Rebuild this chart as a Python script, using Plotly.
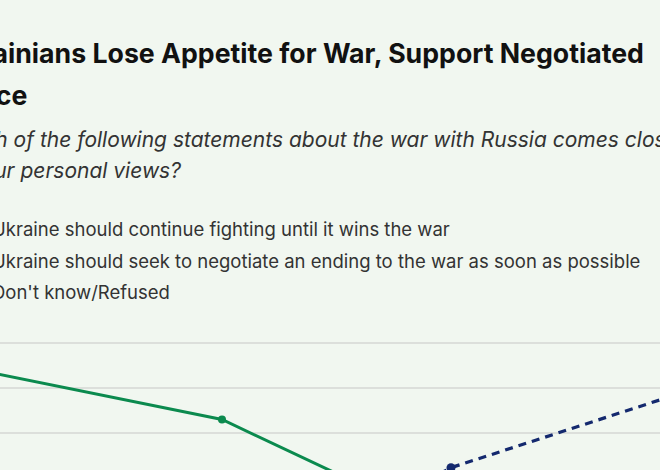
import plotly.graph_objects as go

# survey waves (x positions are evenly spaced categories)
waves = [0, 1, 2, 3]
fight = [53.3, 43.0, 19.0, 15.0]
negotiate = [3.0, 5.0, 32.3, 48.8]
dont_know = [7.0, 8.0, 10.0, 9.0]

series_names = [
    "Ukraine should continue fighting until it wins the war",
    "Ukraine should seek to negotiate an ending to the war as soon as possible",
    "Don't know/Refused",
]
series_colors = ["#0b8a4e", "#14296e", "#9a9a9a"]
title_lines = ["Ukrainians Lose Appetite for War, Support Negotiated", "Peace"]
subtitle_lines = [
    "Which of the following statements about the war with Russia comes closest",
    "to your personal views?",
]

W, H = 660, 470
TOP = 320  # top margin, the plot area runs from TOP to H
BG = "#f1f7f0"
FONT = "Inter, Noto Sans, sans-serif"


def px_x(x):
    return x / W


def px_y(y):
    # annotations use paper coords, which follow the plot area
    return (H - y) / (H - TOP)


fig = go.Figure()
fig.add_trace(go.Scatter(
    x=waves, y=fight, name=series_names[0],
    mode="lines+markers",
    line=dict(color=series_colors[0], width=3),
    marker=dict(size=8, color=series_colors[0]),
))
fig.add_trace(go.Scatter(
    x=waves, y=negotiate, name=series_names[1],
    mode="lines+markers",
    line=dict(color=series_colors[1], width=3.2, dash="8px,6px"),
    marker=dict(size=9, color=series_colors[1]),
))
fig.add_trace(go.Scatter(
    x=waves, y=dont_know, name=series_names[2],
    mode="lines+markers",
    line=dict(color=series_colors[2], width=3),
    marker=dict(size=8, color=series_colors[2]),
))

# the text block starts off the left edge, like the reference crop
for txt, y in zip(title_lines, [53, 95]):
    fig.add_annotation(
        text="<b>%s</b>" % txt, xref="paper", yref="paper",
        x=px_x(-55), y=px_y(y), xanchor="left", yanchor="middle",
        showarrow=False, font=dict(family=FONT, size=26.7, color="#111111"),
    )
for txt, y in zip(subtitle_lines, [140, 170]):
    fig.add_annotation(
        text="<i>%s</i>" % txt, xref="paper", yref="paper",
        x=px_x(-57), y=px_y(y), xanchor="left", yanchor="middle",
        showarrow=False, font=dict(family=FONT, size=21, color="#333333"),
    )

# legend drawn as text rows; the swatches fall outside the crop
for txt, y in zip(series_names, [229, 261, 292]):
    fig.add_annotation(
        text=txt, xref="paper", yref="paper",
        x=px_x(-10), y=px_y(y), xanchor="left", yanchor="middle",
        showarrow=False, font=dict(family=FONT, size=18.5, color="#333333"),
    )

fig.update_layout(
    width=W,
    height=H,
    paper_bgcolor=BG,
    plot_bgcolor=BG,
    margin=dict(l=0, r=0, t=TOP, b=0),
    showlegend=False,
    xaxis=dict(
        range=[7 / 229, 7 / 229 + 660 / 229],
        showgrid=False, zeroline=False, showticklabels=False, showline=False,
    ),
    yaxis=dict(
        range=[60 - 127 / 4.5, 60 + 23 / 4.5],
        tickvals=[40, 50, 60],
        gridcolor="#dcdfdb", gridwidth=1.5,
        zeroline=False, showticklabels=False, showline=False,
    ),
)

fig.write_html(
    "out.html",
    config={"displayModeBar": False},
    post_script="document.body.style.margin='0';",
)
